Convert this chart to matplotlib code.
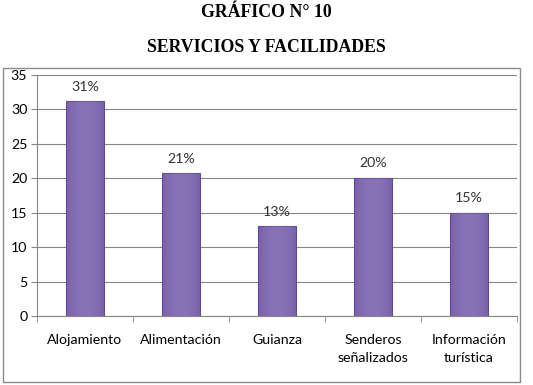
import numpy as np
import matplotlib
matplotlib.use("Agg")
import matplotlib.pyplot as plt
from matplotlib.patches import Rectangle

categories = ['Alojamiento', 'Alimentación', 'Guianza', 'Senderos\nseñalizados', 'Información\nturística']
values = [31.2, 20.8, 13.0, 20.1, 15.0]
labels = ['31%', '21%', '13%', '20%', '15%']

fig = plt.figure(figsize=(5.33, 3.85), dpi=100)

# titles
fig.text(0.5, 0.968, 'GRÁFICO N° 10', ha='center', va='center',
         fontfamily='Liberation Serif', fontweight='bold', fontsize=12.8)
fig.text(0.5, 0.877, 'SERVICIOS Y FACILIDADES', ha='center', va='center',
         fontfamily='Liberation Serif', fontweight='bold', fontsize=12.8)

# chart frame
fig.patches.append(Rectangle((3 / 533, 3 / 385), 517 / 533, 314 / 385, transform=fig.transFigure,
                             fill=False, edgecolor='#8c8c8c', linewidth=1))

ax = fig.add_axes([37 / 533, 1 - 316 / 385, 480 / 533, 241 / 385])
x = np.arange(len(categories))
bars = ax.bar(x, values, width=0.4, color='#7e5dab', edgecolor='#5b3f85', linewidth=0.8, zorder=3)

# simple horizontal shading on bars
grad = np.linspace(0, 1, 100)
shade = 1 - 0.5 * (2 * grad - 1) ** 2
shade = np.tile(shade, (2, 1))
for b in bars:
    bx, by = b.get_x(), b.get_y()
    w, h = b.get_width(), b.get_height()
    im = ax.imshow(shade, extent=(bx, bx + w, by, by + h), aspect='auto', cmap='Purples_r',
                   vmin=-0.2, vmax=2.2, alpha=0.35, zorder=4)
    im.set_clip_path(b)

for xi, v, lab in zip(x, values, labels):
    ax.text(xi, v + 1.2, lab, ha='center', va='bottom', fontsize=10.2,
            fontfamily='Lato', color='#333333')

ax.set_xlim(-0.5, len(categories) - 0.5)
ax.set_ylim(0, 35)
ax.set_yticks(range(0, 36, 5))
ax.set_xticks(x)
ax.set_xticklabels(categories, fontsize=10.2, fontfamily='Lato', linespacing=1.6)
for t in ax.get_yticklabels():
    t.set_fontfamily('Lato')
    t.set_fontsize(10.2)
ax.set_xticks(np.arange(-0.5, len(categories), 1), minor=True)
ax.tick_params(axis='x', which='major', length=0, pad=13)
ax.tick_params(axis='x', which='minor', length=4, color='#868686')
ax.tick_params(axis='y', length=4, color='#868686', pad=3)
ax.grid(axis='y', color='#868686', linewidth=0.8, zorder=0)
for s in ['top', 'right']:
    ax.spines[s].set_visible(False)
ax.spines['left'].set_color('#868686')
ax.spines['bottom'].set_color('#868686')

fig.savefig('out.png', dpi=100)
